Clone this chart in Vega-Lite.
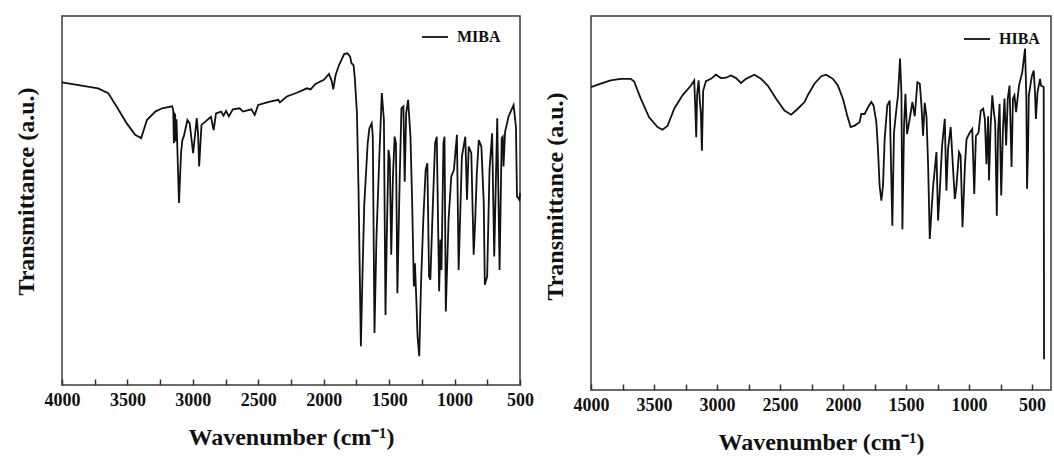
{
  "$schema": "https://vega.github.io/schema/vega-lite/v6.json",
  "background": "white",
  "padding": {"left": 13, "top": 15, "right": 2, "bottom": 0},
  "spacing": 7,
  "config": {
    "font": "Liberation Serif",
    "view": {"stroke": "#3a3a3a", "strokeWidth": 1.5},
    "axisX": {
      "grid": false, "domain": false, "tickColor": "#333333", "tickWidth": 1.5, "tickSize": -6,
      "labelPadding": 12, "labelFont": "Liberation Serif", "labelFontSize": 18, "labelFontWeight": "bold", "labelColor": "#111111",
      "labelFlush": false, "labelOverlap": false, "labelBound": false, "format": "d",
      "labelExpr": "datum.value % 500 === 0 ? datum.label : ''",
      "titleFont": "Liberation Serif", "titleFontSize": 24, "titleFontWeight": "bold", "titleColor": "#111111", "titlePadding": 16
    },
    "axisY": {
      "grid": false, "domain": false, "ticks": false, "labels": false, "titleY": 175,
      "titleFont": "Liberation Serif", "titleFontSize": 24, "titleFontWeight": "bold", "titleColor": "#111111", "titlePadding": 24
    },
    "legend": {
      "orient": "none", "title": null, "symbolType": "stroke", "symbolSize": 676, "symbolStrokeWidth": 1.8,
      "labelFont": "Liberation Serif", "labelFontSize": 16, "labelFontWeight": "bold", "labelColor": "#111111", "labelOffset": 8, "padding": 0
    }
  },
  "resolve": {"scale": {"color": "independent", "x": "independent", "y": "independent"}, "legend": {"color": "independent"}},
  "hconcat": [
    {
      "width": 458,
      "height": 369,
      "data": {"values": [
        {"sample": "MIBA", "wn": 4000, "t": 82.0}, {"sample": "MIBA", "wn": 3724, "t": 80.4}, {"sample": "MIBA", "wn": 3647, "t": 79.1},
        {"sample": "MIBA", "wn": 3583, "t": 75.5}, {"sample": "MIBA", "wn": 3505, "t": 70.9}, {"sample": "MIBA", "wn": 3441, "t": 67.8},
        {"sample": "MIBA", "wn": 3395, "t": 66.9}, {"sample": "MIBA", "wn": 3351, "t": 71.8}, {"sample": "MIBA", "wn": 3287, "t": 74.1},
        {"sample": "MIBA", "wn": 3235, "t": 75.0}, {"sample": "MIBA", "wn": 3158, "t": 75.5}, {"sample": "MIBA", "wn": 3150, "t": 74.5},
        {"sample": "MIBA", "wn": 3145, "t": 65.5}, {"sample": "MIBA", "wn": 3140, "t": 73.5}, {"sample": "MIBA", "wn": 3135, "t": 73.2},
        {"sample": "MIBA", "wn": 3130, "t": 66.0}, {"sample": "MIBA", "wn": 3125, "t": 72.0}, {"sample": "MIBA", "wn": 3106, "t": 49.3},
        {"sample": "MIBA", "wn": 3090, "t": 63.0}, {"sample": "MIBA", "wn": 3080, "t": 66.4}, {"sample": "MIBA", "wn": 3068, "t": 67.5},
        {"sample": "MIBA", "wn": 3042, "t": 71.8}, {"sample": "MIBA", "wn": 3024, "t": 70.9}, {"sample": "MIBA", "wn": 2998, "t": 62.8},
        {"sample": "MIBA", "wn": 2970, "t": 72.3}, {"sample": "MIBA", "wn": 2960, "t": 68.0}, {"sample": "MIBA", "wn": 2952, "t": 59.2},
        {"sample": "MIBA", "wn": 2934, "t": 70.5}, {"sample": "MIBA", "wn": 2900, "t": 71.5}, {"sample": "MIBA", "wn": 2862, "t": 72.7},
        {"sample": "MIBA", "wn": 2841, "t": 69.1}, {"sample": "MIBA", "wn": 2823, "t": 73.6}, {"sample": "MIBA", "wn": 2784, "t": 74.1},
        {"sample": "MIBA", "wn": 2766, "t": 73.0}, {"sample": "MIBA", "wn": 2746, "t": 74.3}, {"sample": "MIBA", "wn": 2725, "t": 72.8},
        {"sample": "MIBA", "wn": 2694, "t": 74.7}, {"sample": "MIBA", "wn": 2643, "t": 75.0}, {"sample": "MIBA", "wn": 2617, "t": 74.1},
        {"sample": "MIBA", "wn": 2553, "t": 74.7}, {"sample": "MIBA", "wn": 2527, "t": 73.2}, {"sample": "MIBA", "wn": 2501, "t": 75.9},
        {"sample": "MIBA", "wn": 2411, "t": 76.8}, {"sample": "MIBA", "wn": 2347, "t": 77.3}, {"sample": "MIBA", "wn": 2335, "t": 76.6},
        {"sample": "MIBA", "wn": 2282, "t": 78.2}, {"sample": "MIBA", "wn": 2205, "t": 79.2}, {"sample": "MIBA", "wn": 2128, "t": 80.4},
        {"sample": "MIBA", "wn": 2100, "t": 80.1}, {"sample": "MIBA", "wn": 2063, "t": 81.6}, {"sample": "MIBA", "wn": 1999, "t": 82.7},
        {"sample": "MIBA", "wn": 1960, "t": 84.3}, {"sample": "MIBA", "wn": 1940, "t": 82.5}, {"sample": "MIBA", "wn": 1927, "t": 80.1},
        {"sample": "MIBA", "wn": 1909, "t": 84.0}, {"sample": "MIBA", "wn": 1883, "t": 86.7}, {"sample": "MIBA", "wn": 1844, "t": 89.7},
        {"sample": "MIBA", "wn": 1819, "t": 89.9}, {"sample": "MIBA", "wn": 1798, "t": 89.0}, {"sample": "MIBA", "wn": 1788, "t": 87.2},
        {"sample": "MIBA", "wn": 1772, "t": 86.7}, {"sample": "MIBA", "wn": 1762, "t": 83.1}, {"sample": "MIBA", "wn": 1746, "t": 73.6},
        {"sample": "MIBA", "wn": 1734, "t": 52.9}, {"sample": "MIBA", "wn": 1716, "t": 10.5}, {"sample": "MIBA", "wn": 1703, "t": 31.0},
        {"sample": "MIBA", "wn": 1690, "t": 49.0}, {"sample": "MIBA", "wn": 1664, "t": 65.5}, {"sample": "MIBA", "wn": 1651, "t": 69.6},
        {"sample": "MIBA", "wn": 1633, "t": 70.9}, {"sample": "MIBA", "wn": 1625, "t": 67.5}, {"sample": "MIBA", "wn": 1612, "t": 14.1},
        {"sample": "MIBA", "wn": 1597, "t": 40.0}, {"sample": "MIBA", "wn": 1574, "t": 62.8}, {"sample": "MIBA", "wn": 1556, "t": 79.1},
        {"sample": "MIBA", "wn": 1540, "t": 71.8}, {"sample": "MIBA", "wn": 1528, "t": 19.0}, {"sample": "MIBA", "wn": 1518, "t": 40.0},
        {"sample": "MIBA", "wn": 1505, "t": 63.7}, {"sample": "MIBA", "wn": 1495, "t": 61.0}, {"sample": "MIBA", "wn": 1484, "t": 35.3},
        {"sample": "MIBA", "wn": 1471, "t": 56.5}, {"sample": "MIBA", "wn": 1458, "t": 67.3}, {"sample": "MIBA", "wn": 1448, "t": 65.5},
        {"sample": "MIBA", "wn": 1437, "t": 24.9}, {"sample": "MIBA", "wn": 1419, "t": 56.5}, {"sample": "MIBA", "wn": 1406, "t": 75.0},
        {"sample": "MIBA", "wn": 1391, "t": 75.5}, {"sample": "MIBA", "wn": 1381, "t": 55.1}, {"sample": "MIBA", "wn": 1370, "t": 73.6},
        {"sample": "MIBA", "wn": 1355, "t": 77.3}, {"sample": "MIBA", "wn": 1337, "t": 67.3}, {"sample": "MIBA", "wn": 1324, "t": 49.3},
        {"sample": "MIBA", "wn": 1311, "t": 26.7}, {"sample": "MIBA", "wn": 1303, "t": 33.0}, {"sample": "MIBA", "wn": 1293, "t": 24.0},
        {"sample": "MIBA", "wn": 1283, "t": 13.2}, {"sample": "MIBA", "wn": 1270, "t": 7.8}, {"sample": "MIBA", "wn": 1257, "t": 26.7},
        {"sample": "MIBA", "wn": 1239, "t": 44.8}, {"sample": "MIBA", "wn": 1221, "t": 58.3}, {"sample": "MIBA", "wn": 1208, "t": 60.1},
        {"sample": "MIBA", "wn": 1195, "t": 29.4}, {"sample": "MIBA", "wn": 1185, "t": 28.5}, {"sample": "MIBA", "wn": 1167, "t": 47.8},
        {"sample": "MIBA", "wn": 1149, "t": 65.5}, {"sample": "MIBA", "wn": 1136, "t": 67.3}, {"sample": "MIBA", "wn": 1128, "t": 48.4},
        {"sample": "MIBA", "wn": 1118, "t": 25.4}, {"sample": "MIBA", "wn": 1108, "t": 39.4}, {"sample": "MIBA", "wn": 1100, "t": 31.2},
        {"sample": "MIBA", "wn": 1085, "t": 65.5}, {"sample": "MIBA", "wn": 1077, "t": 67.3}, {"sample": "MIBA", "wn": 1067, "t": 19.9},
        {"sample": "MIBA", "wn": 1046, "t": 44.8}, {"sample": "MIBA", "wn": 1025, "t": 56.5}, {"sample": "MIBA", "wn": 1005, "t": 58.3},
        {"sample": "MIBA", "wn": 982, "t": 67.8}, {"sample": "MIBA", "wn": 969, "t": 31.2}, {"sample": "MIBA", "wn": 944, "t": 61.9},
        {"sample": "MIBA", "wn": 918, "t": 67.3}, {"sample": "MIBA", "wn": 905, "t": 50.2}, {"sample": "MIBA", "wn": 892, "t": 64.6},
        {"sample": "MIBA", "wn": 872, "t": 62.8}, {"sample": "MIBA", "wn": 854, "t": 35.3}, {"sample": "MIBA", "wn": 842, "t": 44.8},
        {"sample": "MIBA", "wn": 830, "t": 57.4}, {"sample": "MIBA", "wn": 815, "t": 66.4}, {"sample": "MIBA", "wn": 795, "t": 64.6},
        {"sample": "MIBA", "wn": 777, "t": 49.3}, {"sample": "MIBA", "wn": 769, "t": 27.2}, {"sample": "MIBA", "wn": 751, "t": 29.4},
        {"sample": "MIBA", "wn": 733, "t": 58.3}, {"sample": "MIBA", "wn": 713, "t": 68.2}, {"sample": "MIBA", "wn": 697, "t": 34.8},
        {"sample": "MIBA", "wn": 674, "t": 72.3}, {"sample": "MIBA", "wn": 656, "t": 31.2}, {"sample": "MIBA", "wn": 640, "t": 66.9},
        {"sample": "MIBA", "wn": 632, "t": 67.3}, {"sample": "MIBA", "wn": 626, "t": 59.2}, {"sample": "MIBA", "wn": 614, "t": 68.6},
        {"sample": "MIBA", "wn": 588, "t": 72.7}, {"sample": "MIBA", "wn": 549, "t": 75.9}, {"sample": "MIBA", "wn": 531, "t": 70.0},
        {"sample": "MIBA", "wn": 523, "t": 51.1}, {"sample": "MIBA", "wn": 505, "t": 50.2}, {"sample": "MIBA", "wn": 500, "t": 52.0}
      ]},
      "mark": {"type": "line", "strokeWidth": 1.8},
      "encoding": {
        "x": {"field": "wn", "type": "quantitative", "scale": {"domain": [500, 4000], "reverse": true, "nice": false, "zero": false},
              "axis": {"title": "Wavenumber (cm⁻¹)", "labelOverlap": false, "values": [4000, 3750, 3500, 3250, 3000, 2750, 2500, 2250, 2000, 1750, 1500, 1250, 1000, 750, 500]}},
        "y": {"field": "t", "type": "quantitative", "scale": {"domain": [0, 100], "nice": false}, "axis": {"title": "Transmittance (a.u.)"}},
        "color": {"field": "sample", "type": "nominal", "scale": {"range": ["#111111"]}, "legend": {"legendX": 359, "legendY": 7}}
      }
    },
    {
      "width": 460,
      "height": 374,
      "data": {"values": [
        {"sample": "HIBA", "wn": 4000, "t": 81.0}, {"sample": "HIBA", "wn": 3923, "t": 81.9}, {"sample": "HIBA", "wn": 3844, "t": 82.8},
        {"sample": "HIBA", "wn": 3764, "t": 83.2}, {"sample": "HIBA", "wn": 3685, "t": 83.2}, {"sample": "HIBA", "wn": 3658, "t": 82.5},
        {"sample": "HIBA", "wn": 3605, "t": 77.9}, {"sample": "HIBA", "wn": 3539, "t": 72.9}, {"sample": "HIBA", "wn": 3472, "t": 70.3},
        {"sample": "HIBA", "wn": 3433, "t": 69.6}, {"sample": "HIBA", "wn": 3393, "t": 70.6}, {"sample": "HIBA", "wn": 3340, "t": 75.2},
        {"sample": "HIBA", "wn": 3274, "t": 78.8}, {"sample": "HIBA", "wn": 3207, "t": 81.4}, {"sample": "HIBA", "wn": 3181, "t": 82.8},
        {"sample": "HIBA", "wn": 3172, "t": 75.0}, {"sample": "HIBA", "wn": 3165, "t": 67.6}, {"sample": "HIBA", "wn": 3158, "t": 79.0},
        {"sample": "HIBA", "wn": 3146, "t": 82.8}, {"sample": "HIBA", "wn": 3138, "t": 78.0}, {"sample": "HIBA", "wn": 3128, "t": 73.9},
        {"sample": "HIBA", "wn": 3120, "t": 64.0}, {"sample": "HIBA", "wn": 3110, "t": 80.0}, {"sample": "HIBA", "wn": 3088, "t": 82.6},
        {"sample": "HIBA", "wn": 3048, "t": 83.2}, {"sample": "HIBA", "wn": 3009, "t": 84.3}, {"sample": "HIBA", "wn": 2969, "t": 83.4},
        {"sample": "HIBA", "wn": 2929, "t": 83.5}, {"sample": "HIBA", "wn": 2889, "t": 84.1}, {"sample": "HIBA", "wn": 2849, "t": 83.4},
        {"sample": "HIBA", "wn": 2810, "t": 82.1}, {"sample": "HIBA", "wn": 2770, "t": 83.2}, {"sample": "HIBA", "wn": 2704, "t": 84.3},
        {"sample": "HIBA", "wn": 2651, "t": 83.2}, {"sample": "HIBA", "wn": 2598, "t": 81.4}, {"sample": "HIBA", "wn": 2531, "t": 77.9},
        {"sample": "HIBA", "wn": 2465, "t": 74.7}, {"sample": "HIBA", "wn": 2412, "t": 73.6}, {"sample": "HIBA", "wn": 2359, "t": 75.2},
        {"sample": "HIBA", "wn": 2306, "t": 77.0}, {"sample": "HIBA", "wn": 2280, "t": 78.8}, {"sample": "HIBA", "wn": 2227, "t": 81.9},
        {"sample": "HIBA", "wn": 2173, "t": 83.9}, {"sample": "HIBA", "wn": 2134, "t": 84.3}, {"sample": "HIBA", "wn": 2081, "t": 83.2},
        {"sample": "HIBA", "wn": 2041, "t": 81.4}, {"sample": "HIBA", "wn": 2001, "t": 77.9}, {"sample": "HIBA", "wn": 1967, "t": 73.4},
        {"sample": "HIBA", "wn": 1940, "t": 70.3}, {"sample": "HIBA", "wn": 1908, "t": 70.7}, {"sample": "HIBA", "wn": 1869, "t": 71.6},
        {"sample": "HIBA", "wn": 1855, "t": 73.8}, {"sample": "HIBA", "wn": 1829, "t": 73.8}, {"sample": "HIBA", "wn": 1802, "t": 75.6},
        {"sample": "HIBA", "wn": 1776, "t": 77.0}, {"sample": "HIBA", "wn": 1758, "t": 76.1}, {"sample": "HIBA", "wn": 1736, "t": 71.6},
        {"sample": "HIBA", "wn": 1723, "t": 64.5}, {"sample": "HIBA", "wn": 1710, "t": 54.6}, {"sample": "HIBA", "wn": 1696, "t": 50.6},
        {"sample": "HIBA", "wn": 1683, "t": 54.6}, {"sample": "HIBA", "wn": 1670, "t": 67.0}, {"sample": "HIBA", "wn": 1649, "t": 76.1},
        {"sample": "HIBA", "wn": 1630, "t": 77.4}, {"sample": "HIBA", "wn": 1622, "t": 64.5}, {"sample": "HIBA", "wn": 1609, "t": 43.9},
        {"sample": "HIBA", "wn": 1596, "t": 68.8}, {"sample": "HIBA", "wn": 1577, "t": 75.0}, {"sample": "HIBA", "wn": 1564, "t": 78.8},
        {"sample": "HIBA", "wn": 1548, "t": 88.6}, {"sample": "HIBA", "wn": 1537, "t": 79.6}, {"sample": "HIBA", "wn": 1529, "t": 43.0},
        {"sample": "HIBA", "wn": 1516, "t": 70.7}, {"sample": "HIBA", "wn": 1505, "t": 79.2}, {"sample": "HIBA", "wn": 1492, "t": 68.4},
        {"sample": "HIBA", "wn": 1471, "t": 72.5}, {"sample": "HIBA", "wn": 1450, "t": 77.0}, {"sample": "HIBA", "wn": 1431, "t": 73.2},
        {"sample": "HIBA", "wn": 1410, "t": 82.3}, {"sample": "HIBA", "wn": 1391, "t": 81.9}, {"sample": "HIBA", "wn": 1378, "t": 76.1},
        {"sample": "HIBA", "wn": 1365, "t": 68.0}, {"sample": "HIBA", "wn": 1352, "t": 76.8}, {"sample": "HIBA", "wn": 1338, "t": 73.2},
        {"sample": "HIBA", "wn": 1325, "t": 60.0}, {"sample": "HIBA", "wn": 1312, "t": 40.4}, {"sample": "HIBA", "wn": 1299, "t": 47.5},
        {"sample": "HIBA", "wn": 1285, "t": 54.6}, {"sample": "HIBA", "wn": 1272, "t": 59.1}, {"sample": "HIBA", "wn": 1259, "t": 63.6},
        {"sample": "HIBA", "wn": 1246, "t": 45.3}, {"sample": "HIBA", "wn": 1233, "t": 52.9}, {"sample": "HIBA", "wn": 1214, "t": 65.4},
        {"sample": "HIBA", "wn": 1193, "t": 72.5}, {"sample": "HIBA", "wn": 1180, "t": 53.3}, {"sample": "HIBA", "wn": 1167, "t": 64.5},
        {"sample": "HIBA", "wn": 1146, "t": 70.3}, {"sample": "HIBA", "wn": 1127, "t": 59.1}, {"sample": "HIBA", "wn": 1113, "t": 51.1},
        {"sample": "HIBA", "wn": 1100, "t": 54.6}, {"sample": "HIBA", "wn": 1080, "t": 63.6}, {"sample": "HIBA", "wn": 1067, "t": 62.7},
        {"sample": "HIBA", "wn": 1052, "t": 43.5}, {"sample": "HIBA", "wn": 1033, "t": 60.0}, {"sample": "HIBA", "wn": 1020, "t": 67.1},
        {"sample": "HIBA", "wn": 993, "t": 68.9}, {"sample": "HIBA", "wn": 975, "t": 69.8}, {"sample": "HIBA", "wn": 959, "t": 52.4},
        {"sample": "HIBA", "wn": 946, "t": 67.9}, {"sample": "HIBA", "wn": 925, "t": 68.8}, {"sample": "HIBA", "wn": 907, "t": 74.7},
        {"sample": "HIBA", "wn": 888, "t": 75.2}, {"sample": "HIBA", "wn": 875, "t": 72.5}, {"sample": "HIBA", "wn": 862, "t": 60.4},
        {"sample": "HIBA", "wn": 849, "t": 73.2}, {"sample": "HIBA", "wn": 842, "t": 56.0}, {"sample": "HIBA", "wn": 829, "t": 70.7},
        {"sample": "HIBA", "wn": 816, "t": 78.8}, {"sample": "HIBA", "wn": 803, "t": 74.3}, {"sample": "HIBA", "wn": 793, "t": 71.6},
        {"sample": "HIBA", "wn": 780, "t": 46.6}, {"sample": "HIBA", "wn": 770, "t": 69.0}, {"sample": "HIBA", "wn": 758, "t": 76.5},
        {"sample": "HIBA", "wn": 745, "t": 52.0}, {"sample": "HIBA", "wn": 732, "t": 69.0}, {"sample": "HIBA", "wn": 719, "t": 77.9},
        {"sample": "HIBA", "wn": 706, "t": 65.4}, {"sample": "HIBA", "wn": 693, "t": 77.9}, {"sample": "HIBA", "wn": 679, "t": 81.4},
        {"sample": "HIBA", "wn": 663, "t": 59.6}, {"sample": "HIBA", "wn": 652, "t": 77.9}, {"sample": "HIBA", "wn": 640, "t": 78.8},
        {"sample": "HIBA", "wn": 627, "t": 74.3}, {"sample": "HIBA", "wn": 604, "t": 81.4}, {"sample": "HIBA", "wn": 578, "t": 85.0},
        {"sample": "HIBA", "wn": 556, "t": 91.3}, {"sample": "HIBA", "wn": 546, "t": 78.8}, {"sample": "HIBA", "wn": 540, "t": 53.8},
        {"sample": "HIBA", "wn": 532, "t": 64.5}, {"sample": "HIBA", "wn": 526, "t": 78.8}, {"sample": "HIBA", "wn": 502, "t": 83.9},
        {"sample": "HIBA", "wn": 487, "t": 85.4}, {"sample": "HIBA", "wn": 477, "t": 79.6}, {"sample": "HIBA", "wn": 470, "t": 72.5},
        {"sample": "HIBA", "wn": 457, "t": 79.6}, {"sample": "HIBA", "wn": 437, "t": 83.2}, {"sample": "HIBA", "wn": 429, "t": 81.4},
        {"sample": "HIBA", "wn": 408, "t": 81.0}, {"sample": "HIBA", "wn": 405, "t": 8.2}
      ]},
      "mark": {"type": "line", "strokeWidth": 1.8},
      "encoding": {
        "x": {"field": "wn", "type": "quantitative", "scale": {"domain": [350, 4000], "reverse": true, "nice": false, "zero": false},
              "axis": {"title": "Wavenumber (cm⁻¹)", "labelOverlap": false, "values": [4000, 3750, 3500, 3250, 3000, 2750, 2500, 2250, 2000, 1750, 1500, 1250, 1000, 750, 500]}},
        "y": {"field": "t", "type": "quantitative", "scale": {"domain": [0, 100], "nice": false}, "axis": {"title": "Transmittance (a.u.)", "titleY": 180}},
        "color": {"field": "sample", "type": "nominal", "scale": {"range": ["#111111"]}, "legend": {"legendX": 372, "legendY": 9}}
      }
    }
  ]
}
